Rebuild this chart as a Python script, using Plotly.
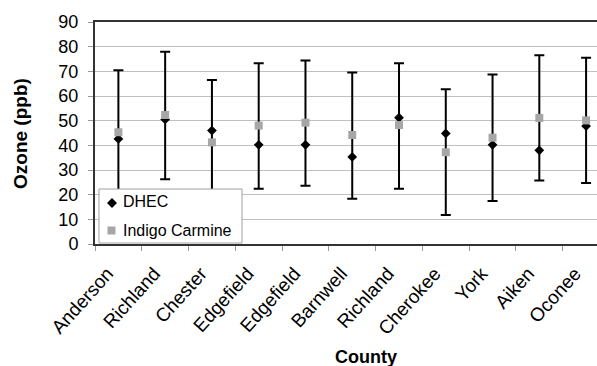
import plotly.graph_objects as go

# ---- data ----
counties = ["Anderson", "Richland", "Chester", "Edgefield", "Edgefield", "Barnwell",
            "Richland", "Cherokee", "York", "Aiken", "Oconee"]
dhec = [42.6, 50.5, 46.0, 40.2, 40.2, 35.3, 51.2, 44.8, 40.2, 38.0, 47.8]
indigo = [45.3, 52.3, 41.2, 48.0, 49.2, 44.2, 48.2, 37.2, 43.1, 51.1, 50.1]
err_plus = [25.1, 25.6, 25.3, 25.3, 25.2, 25.3, 25.1, 25.5, 25.6, 25.4, 25.4]
err_minus = [25.1, 26.0, 25.3, 25.6, 25.6, 25.9, 25.8, 25.4, 25.7, 25.4, 25.4]
y_ticks = [0, 10, 20, 30, 40, 50, 60, 70, 80, 90]

FONT = "Arial, Liberation Sans, sans-serif"
W, H = 597, 366
L, R, T, B = 95, 0, 22, 122
PW, PH = W - L - R, H - T - B


def px(x):
    return (x - L) / PW


def py(y):
    return (H - B - y) / PH


xs = list(range(len(counties)))

fig = go.Figure()
fig.add_trace(go.Scatter(
    x=xs, y=dhec, mode="markers", name="DHEC",
    marker=dict(symbol="diamond", size=7.5, color="black"),
    showlegend=False,
))
fig.add_trace(go.Scatter(
    x=xs, y=indigo, mode="markers", name="Indigo Carmine",
    marker=dict(symbol="square", size=8, color="#a6a6a6"),
    error_y=dict(type="data", symmetric=False, array=err_plus, arrayminus=err_minus,
                 color="black", thickness=2, width=5),
    showlegend=False,
))

# manual legend box (matches the reference's compact layout)
shapes = [
    dict(type="rect", xref="paper", yref="paper", x0=px(99), x1=px(242), y0=py(243), y1=py(189),
         fillcolor="white", line=dict(color="#a0a0a0", width=1), layer="above"),
    dict(type="path", xref="paper", yref="paper", xsizemode="pixel", ysizemode="pixel",
         xanchor=px(112), yanchor=py(203), path="M -5 0 L 0 5 L 5 0 L 0 -5 Z",
         fillcolor="black", line=dict(width=0), layer="above"),
    dict(type="path", xref="paper", yref="paper", xsizemode="pixel", ysizemode="pixel",
         xanchor=px(111.5), yanchor=py(230.5), path="M -4 -4 L 4 -4 L 4 4 L -4 4 Z",
         fillcolor="#a6a6a6", line=dict(width=0), layer="above"),
]
annotations = [
    dict(text="DHEC", xref="paper", yref="paper", x=px(121), y=py(202), xanchor="left",
         yanchor="middle", showarrow=False, font=dict(size=16, color="black", family=FONT)),
    dict(text="Indigo Carmine", xref="paper", yref="paper", x=px(121), y=py(230), xanchor="left",
         yanchor="middle", showarrow=False, font=dict(size=16, color="black", family=FONT)),
    dict(text="<b>Ozone (ppb)</b>", xref="paper", yref="paper", x=px(20), y=py(134),
         textangle=-90, xanchor="center", yanchor="middle", showarrow=False,
         font=dict(size=19, color="black", family=FONT)),
    dict(text="<b>County</b>", xref="paper", yref="paper", x=px(366), y=py(357),
         xanchor="center", yanchor="middle", showarrow=False,
         font=dict(size=18, color="black", family=FONT)),
]

span = PW / 46.77
fig.update_layout(
    width=W, height=H,
    margin=dict(l=L, r=R, t=T, b=B, pad=0),
    paper_bgcolor="white", plot_bgcolor="white",
    font=dict(family=FONT, color="black"),
    showlegend=False,
    shapes=shapes,
    annotations=annotations,
    xaxis=dict(
        range=[-0.5, -0.5 + span],
        tickmode="array", tickvals=xs, ticktext=counties,
        tickangle=-48, ticks="", tickfont=dict(size=19, color="black"),
        ticklabelstandoff=9, ticklabelshift=-11,
        showgrid=False, zeroline=False,
        showline=True, linecolor="#333333", linewidth=2, mirror=True,
        minor=dict(tickmode="array", tickvals=[i - 0.5 for i in range(len(counties) + 1)],
                   ticks="outside", ticklen=5, tickcolor="#999999", tickwidth=1, showgrid=False),
    ),
    yaxis=dict(
        range=[0, 90], tickmode="array", tickvals=y_ticks,
        ticks="outside", ticklen=5, tickcolor="#999999", tickwidth=1,
        tickfont=dict(size=18, color="black"), ticklabelstandoff=6,
        showgrid=True, gridcolor="#c0c0c0", gridwidth=1, zeroline=False,
        showline=True, linecolor="#333333", linewidth=2,
    ),
)

fig.write_html("out.html")
